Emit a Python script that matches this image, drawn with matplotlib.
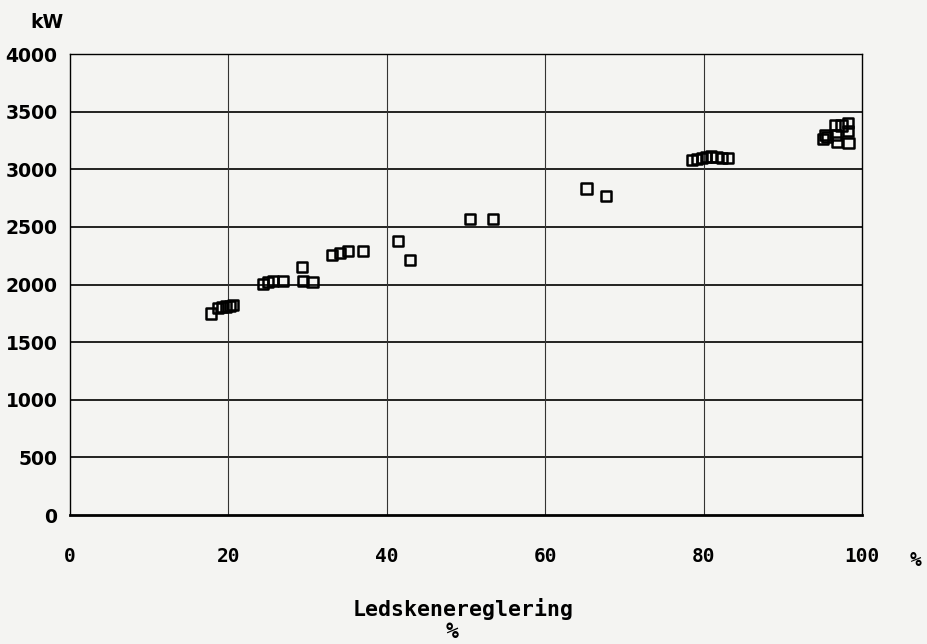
import matplotlib.pyplot as plt

# Guide vane setting (%) vs. power output (kW)
ledskene = [
    17.8, 18.7, 19.2, 19.7, 20.2, 20.6,
    24.4, 25.0, 25.6, 26.9, 29.3, 29.4, 30.6,
    33.1, 34.1, 35.1, 37.0,
    41.4, 42.9, 50.5, 53.4,
    65.2, 67.7,
    78.5, 79.2, 79.8, 80.3, 80.9, 81.6, 82.3, 83.1,
    95.1, 95.3, 95.6, 96.6, 96.7, 96.8, 97.4, 98.2, 98.2, 98.3,
]
effekt = [
    1750, 1795, 1805, 1810, 1815, 1820,
    2005, 2020, 2030, 2030, 2150, 2030, 2020,
    2255, 2272, 2290, 2290,
    2376, 2212, 2567, 2567,
    2833, 2767,
    3080, 3090, 3100, 3105, 3110, 3105, 3100, 3100,
    3261, 3295, 3278, 3382, 3296, 3235, 3380, 3400, 3330, 3226,
]

y_ticks = [0, 500, 1000, 1500, 2000, 2500, 3000, 3500, 4000]
x_ticks = [0, 20, 40, 60, 80, 100]

bg = "#f4f4f2"
fig = plt.figure(figsize=(9.27, 6.44), dpi=100, facecolor=bg)
ax = fig.add_axes([0.0755, 0.2003, 0.8545, 0.7157], facecolor=bg)

ax.set_xlim(0, 100)
ax.set_ylim(0, 4000)

for v in y_ticks[1:-1]:
    ax.axhline(v, color="#111111", lw=1.3, zorder=1)
for v in x_ticks[1:-1]:
    ax.axvline(v, color="#333333", lw=0.8, zorder=1)

ax.scatter(ledskene, effekt, marker="s", s=55, facecolors="none",
           edgecolors="black", linewidths=1.8, zorder=3)

for side in ("left", "right", "top"):
    ax.spines[side].set_linewidth(1.0)
ax.spines["bottom"].set_linewidth(2.0)

ax.set_yticks(y_ticks)
ax.set_yticklabels([str(v) for v in y_ticks], fontsize=13.5,
                   fontweight="bold", family="DejaVu Sans")
ax.set_xticks(x_ticks)
ax.set_xticklabels([str(v) for v in x_ticks], fontsize=14,
                   fontweight="bold", family="DejaVu Sans Mono")
ax.tick_params(axis="both", length=0)
ax.tick_params(axis="y", pad=9)
ax.tick_params(axis="x", pad=23)

ax.text(-0.029, 1.069, "kW", transform=ax.transAxes, fontsize=13.5,
        fontweight="bold", ha="center", va="center")
ax.text(1.067, -0.098, "%", transform=ax.transAxes, fontsize=14,
        fontweight="bold", family="DejaVu Sans Mono", ha="center", va="center")

fig.text(0.5, 0.054, "Ledskenereglering", ha="center", va="center",
         fontsize=15.5, fontweight="bold", family="DejaVu Sans Mono")
fig.text(0.488, 0.019, "%", ha="center", va="center",
         fontsize=15.5, fontweight="bold", family="DejaVu Sans Mono")

fig.savefig("out.png", dpi=100, facecolor=bg)
